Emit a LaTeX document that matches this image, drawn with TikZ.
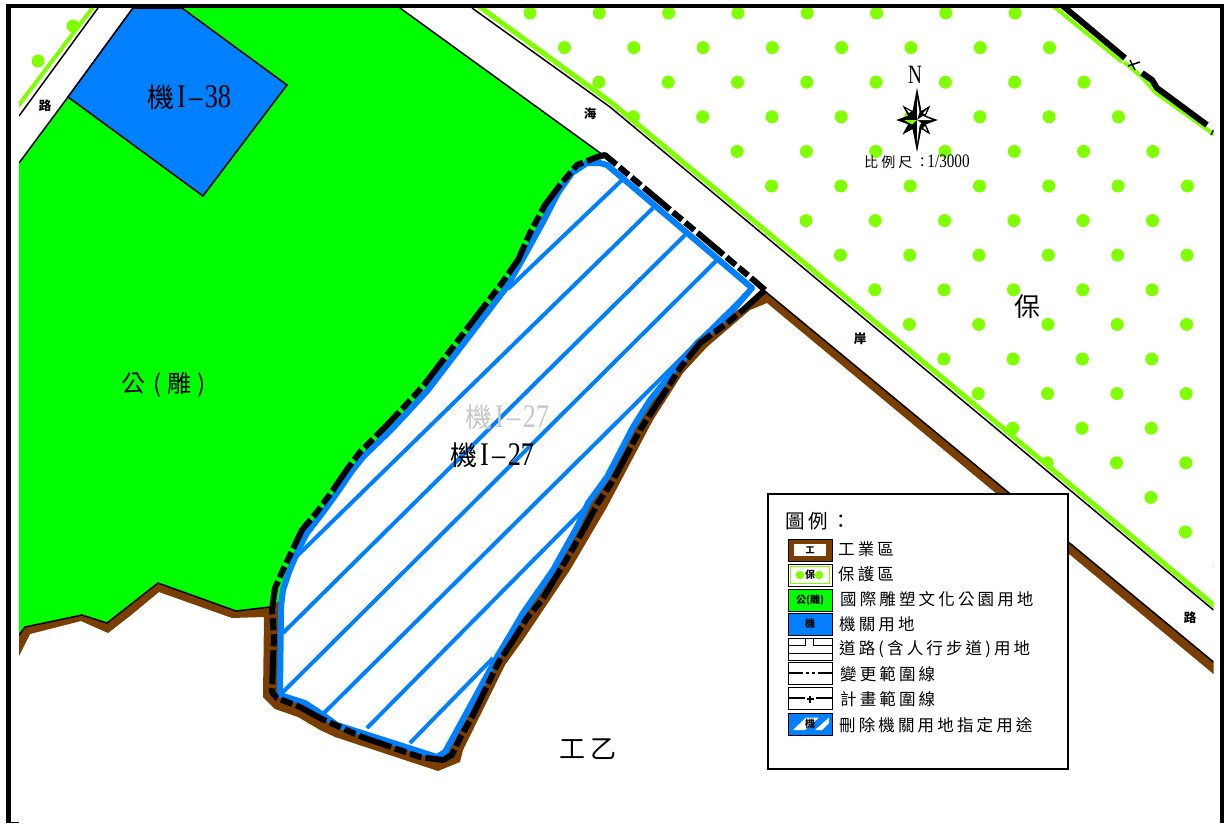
\documentclass[tikz,border=0pt]{standalone}
\usepackage{fontspec}
\usepackage{graphicx}
\setmainfont{Liberation Serif}
\newfontfamily\cjk{Noto Sans CJK TC}
\newfontfamily\cjkleg[LetterSpace=19]{Noto Sans CJK TC}
\newfontfamily\cjktitle[LetterSpace=20]{Noto Sans CJK TC}
\newfontfamily\cjkwide[LetterSpace=22]{Noto Sans CJK TC}
\definecolor{parkgreen}{HTML}{00FF00}
\definecolor{govblue}{HTML}{0080FF}
\definecolor{limeg}{HTML}{80FF00}
\definecolor{soilbrown}{HTML}{7A3E00}
\newcommand{\fsz}[1]{\fontsize{#1}{#1}\selectfont}
\newcommand{\tallnum}[2]{\scalebox{.8}[1]{\fsz{#1}#2}}
\newcommand{\kiten}[1]{{\fsz{27}\cjk 機}\kern3pt\tallnum{33}{I\kern4pt--\kern3pt#1}}
\tikzset{
  mapline/.style={black,line width=1.5pt},
  dot/.style={fill=limeg,draw=none},
  hatch/.style={govblue,line width=4pt},
  keybox/.style={draw=black,line width=1pt,fill=white},
  leg/.style={anchor=west,inner sep=0pt,font=\fsz{16.5}\cjkleg},
  keytxt/.style={inner sep=0pt,text=black},
  roadlbl/.style={inner sep=0pt,font=\fsz{12.5}\cjk\bfseries},
  rangeline/.style={black,line width=3pt},
  keyfill/.style={draw=black,line width=1pt,minimum width=44pt,minimum height=22pt,inner sep=0pt}
}
\begin{document}
\begin{tikzpicture}[x=1pt,y=-1pt]
\useasboundingbox (0,0) rectangle (1224,823);
\fill[white] (0,0) rectangle (1224,823);
\begin{scope}
\clip (19,8) rectangle (1213.5,823);
% protected zone dots
\begin{scope}
\clip (478,8) -- (1058,8) -- (1122,62) -- (1140,76) -- (1150,85) -- (1176,126) -- (1213.5,133) -- (1213.5,605) -- (1015,437) -- (612,103) -- cycle;
\foreach \r in {0,...,17}{
  \pgfmathsetmacro{\off}{mod(\r,2)*34.65-0.2*\r}
  \pgfmathsetmacro{\yy}{13+34.6*\r}
  \foreach \k in {0,...,10}{
    \pgfmathsetmacro{\xx}{530+69.3*\k+\off}
    \pgfmathtruncatemacro{\keep}{(\yy < 107+(\xx-610)*0.8325-6) ? 1 : 0}
    \ifnum\keep=1
      \fill[dot] (\xx,\yy) circle (6.5);
    \fi
  }
}
\end{scope}
\fill[dot] (73,26) circle (6.5);
\fill[dot] (38,61) circle (6.5);
% green park
\fill[parkgreen] (19,163) -- (68,97) -- (133,8) -- (400,8) -- (603,155) -- (450,500) -- (272,607) -- (236,611) -- (158,583) -- (107,623) -- (82,615) -- (25,627) -- (19,635) -- cycle;
\draw[mapline] (400,8) -- (603,155);
\draw[mapline] (133,8) -- (68,97) -- (19,163);
% government plot
\filldraw[fill=govblue,draw=black,line width=1.5pt] (133,8) -- (182,8) -- (287,85) -- (203,196) -- (68,97) -- cycle;
% brown industrial edge
\fill[soilbrown] (19,635) -- (25,627) -- (82,615) -- (107,623) -- (158,583) -- (236,611) -- (270,607) -- (766,292) -- (1213.5,662) -- (1213.5,674) -- (767,303) -- (750,310) -- (707,347) -- (683,373) -- (653,420) -- (607,507) -- (570,570) -- (523,640) -- (505,665) -- (463,750) -- (460,762) -- (438,771) -- (335,737) -- (320,730) -- (298,717) -- (275,709) -- (263,697) -- (264,617) -- (232,618) -- (159,592) -- (130,616) -- (108,633) -- (81,621) -- (30,634) -- (19,656) -- cycle;
\draw[mapline] (19,635) -- (25,627) -- (82,615) -- (107,623) -- (158,583) -- (236,611) -- (270,607);
\draw[mapline] (766,292) -- (1213.5,662);
% road edges
\draw[limeg,line width=5pt] (478,5.5) -- (612,103) -- (1013,436.5) -- (1216,607);
\draw[mapline] (472,8) -- (610,107) -- (1010,440) -- (1213.5,610);
\draw[limeg,line width=4pt] (94,6) -- (15,110);
\draw[mapline] (98,8) -- (19,116);
% top right
\draw[limeg,line width=4pt] (1052,5) -- (1122,62) (1124,62) -- (1142,77) -- (1148,84) -- (1156,93) -- (1215,135);
% parcel
\path[fill=white,draw=govblue,line width=6pt,line join=round] (600,163) -- (607,165) -- (752,288) -- (727,317) -- (697,343) -- (677,367) -- (650,400) -- (633,427) -- (607,477) -- (588,503) -- (577,527) -- (553,570) -- (523,613) -- (513,630) -- (497,657) -- (450,743) -- (445,752) -- (437,757) -- (337,725) -- (323,715) -- (305,703) -- (280,695) -- (281,607) -- (283,590) -- (289,572) -- (297,553) -- (307,533) -- (321,515) -- (337,493) -- (352,471) -- (364,456) -- (391,430) -- (407,413) -- (428,390) -- (506,288) -- (525,255) -- (543,222) -- (558,193) -- (572,173) -- (587,163) -- cycle;
\draw[hatch] (622,180) -- (508,289);
\draw[hatch] (653,208) -- (296,557);
\draw[hatch] (685,235) -- (283,633);
\draw[hatch] (717,260) -- (280,695);
\draw[hatch] (752,288) -- (322,715);
\draw[hatch] (590,503) -- (367,728);
\draw[hatch] (493,658) -- (410,743);
% change line
\draw[black,line width=6pt,line join=round,dash pattern=on 34pt off 4pt on 12pt off 4pt on 12pt off 4pt]
 (765,290) -- (743,310) -- (727,323) -- (700,343) -- (680,368) -- (668,387) -- (653,410) -- (640,430) -- (612,482) -- (598,503) -- (585,527) -- (572,550) -- (542,600) -- (527,618) -- (512,642) -- (498,663) -- (472,717) -- (460,738) -- (452,755) -- (443,760) -- (420,757) -- (362,737) -- (342,728) -- (320,718) -- (300,707) -- (277,698) -- (272,692) -- (273,660) -- (274,637) -- (272,610) -- (275,588) -- (283,570) -- (302,530) -- (317,512) -- (333,490) -- (348,468) -- (360,452) -- (387,425) -- (403,408) -- (424,385) -- (502,283) -- (518,260) -- (530,233) -- (545,205) -- (560,185) -- (577,165) -- (597,157) -- (605,155) -- (750,277) -- (765,290);
% plan boundary top right
\draw[black,line width=6pt,line join=round] (1063,6) -- (1125,58);
\draw[black,line width=6pt,line join=round] (1142,73) -- (1152,80) -- (1157,88) -- (1207,125);
\draw[black,line width=1.5pt] (1128,66) -- (1140,62) (1130,60) -- (1135,70);
\draw[black,line width=1.5pt] (1211,135) -- (1213.5,130);
\end{scope}
% frame
\fill[black] (6,4) rectangle (1220,8);
\fill[black] (6,4) rectangle (11,823);
\fill[black] (1220,4) rectangle (1224,823);
\draw[black,line width=1pt] (11,822) -- (19,822);
% labels
\node[roadlbl] (lblA) at (45,106) {路};
\node[roadlbl] (lblB) at (590,114) {海};
\node[roadlbl] (lblC) at (860,339) {岸};
\node[roadlbl] (lblD) at (1190,618) {路};
\node[inner sep=0pt,anchor=west] (j38) at (147,97) {\kiten{38}};
\node[inner sep=0pt,anchor=west,text=black!22] (j27g) at (465,417) {\kiten{27}};
\node[inner sep=0pt,anchor=west] (j27) at (450,455) {\kiten{27}};
\node[inner sep=0pt,anchor=west,font=\fsz{24}\cjk] (park) at (121,385) {公\kern8pt(\kern6pt雕\kern6pt)};
\node[inner sep=0pt,font=\fsz{26}\cjk] (bao) at (1027,307) {保};
\node[inner sep=0pt,font=\fsz{26}\cjkwide] (gongyi) at (588,749) {工乙};
% compass
\node[inner sep=0pt] (north) at (915,75) {\scalebox{.8}[1.1]{\fsz{24}N}};
\coordinate (c) at (917,120);
\filldraw[black,line width=1.2pt,line join=miter] (917,91) -- (921,112) -- (929,107) -- (925,116) -- (936,120) -- (925,124) -- (929,133) -- (921,128) -- (917,149) -- (913,128) -- (904,133) -- (909,124) -- (898,120) -- (909,116) -- (904,107) -- (913,112) -- cycle;
\fill[white] (c) -- (917,98) -- (919.5,112) -- cycle;
\fill[white] (c) -- (932,120) -- (923,116) -- cycle;
\fill[white] (c) -- (917,144) -- (919.5,126) -- (921,123)-- cycle;
\fill[limeg] (c) -- (904,120) -- (912,124.5) -- cycle;
\fill[white] (906,109) -- (911,111.5) -- (909,113) -- cycle;
\fill[white] (927,109) -- (923,113) -- (925,114.5) -- cycle;
\fill[white] (927,131) -- (925,126) -- (923,128) -- cycle;
\node[inner sep=0pt,anchor=west] (scalelbl) at (864,162) {{\fsz{14}\cjkwide 比例尺：}\kern-2pt\tallnum{19}{1/3000}};
% legend
\filldraw[fill=white,draw=black,line width=1.2pt] (768,494) rectangle (1068,769);
\node[inner sep=0pt,anchor=west,font=\fsz{19.5}\cjktitle] (legT) at (785,521) {圖例：};
% keys
\node[keyfill,fill=soilbrown] (k1) at (810,550) {};
\fill[white] (794,544) rectangle (826,556);
\node[keytxt,font=\fsz{9}\cjk\bfseries] (k1t) at (810,550) {工};
\node[keybox,minimum width=44pt,minimum height=22pt,inner sep=0pt] (k2) at (810,575) {};
\draw[limeg,line width=1.5pt] (790.5,566.5) rectangle (829.5,583.5);
\fill[dot] (800,575) circle (4.3);
\fill[dot] (819,575) circle (4.3);
\node[keytxt,font=\fsz{10}\cjk\bfseries] (k2t) at (810,575) {保};
\node[keyfill,fill=parkgreen] (k3) at (810,600) {};
\node[keytxt,font=\fsz{10}\cjk\bfseries] (k3t) at (810,600) {公(雕)};
\node[keyfill,fill=govblue] (k4) at (810,624) {};
\node[keytxt,font=\fsz{10}\cjk\bfseries] (k4t) at (810,624) {機};
\node[keybox,minimum width=44pt,minimum height=22pt,inner sep=0pt] (k5) at (810,649) {};
\draw[black,line width=1pt] (788,645) -- (805,645) -- (805,638) (813,638) -- (813,645) -- (832,645) (788,653) -- (832,653);
\node[keybox,minimum width=44pt,minimum height=22pt,inner sep=0pt] (k6) at (810,673) {};
\draw[rangeline,line width=2.5pt] (k6.west) -- ++(15,0) (k6.east) -- ++(-15,0);
\draw[rangeline,line width=2.5pt] (806,673) -- (809,673) (812,673) -- (815,673);
\node[keybox,minimum width=44pt,minimum height=22pt,inner sep=0pt] (k7) at (810,698) {};
\draw[rangeline,line width=2.5pt] (k7.west) -- ++(17,0) (k7.east) -- ++(-17,0);
\draw[black,line width=1.5pt] (806.5,699) -- (813.5,699) (810,695.5) -- (810,702.5);
\node[keyfill,fill=govblue] (k8) at (810,724) {};
\fill[white] (793,730) -- (806,717.5) -- (819,717.5) -- (805,730) -- cycle;
\fill[white] (815,730) -- (829,717.5) -- (829,723) -- (822,730) -- cycle;
\node[keytxt,font=\fsz{10}\cjk\bfseries] (k8t) at (810,724) {機};
% legend texts
\node[leg] (t1) at (838,549) {工業區};
\node[leg] (t2) at (838,574) {保護區};
\node[leg] (t3) at (840,599) {國際雕塑文化公園用地};
\node[leg] (t4) at (839,624) {機關用地};
\node[leg] (t5) at (839,649) {道路(含人行步道)用地};
\node[leg] (t6) at (840,674) {變更範圍線};
\node[leg] (t7) at (840,699) {計畫範圍線};
\node[leg] (t8) at (839,725) {刪除機關用地指定用途};
\end{tikzpicture}
\end{document}
